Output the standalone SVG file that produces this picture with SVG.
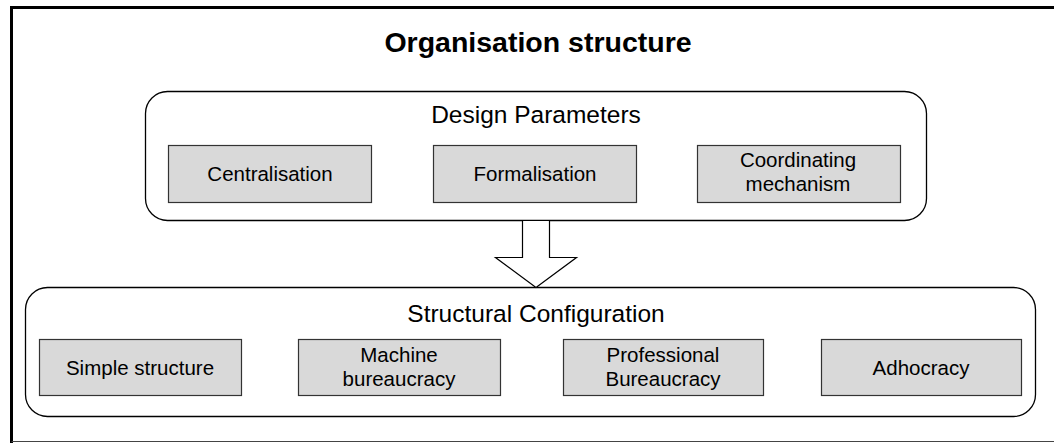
<svg xmlns="http://www.w3.org/2000/svg" width="1054" height="443" viewBox="0 0 1054 443">
<style>
.frame{fill:none;stroke:#000;stroke-width:3}
.group{fill:#fff;stroke:#000;stroke-width:1.3}
.box{fill:#d9d9d9;stroke:#333;stroke-width:1.2}
.t{font-family:"Liberation Sans",Arial,sans-serif;fill:#000;text-anchor:middle}
.bt{font-size:20.5px}
.gt{font-size:24.5px}
.title{font-size:28.5px;font-weight:bold}
.arrow{fill:#fff;stroke:#000;stroke-width:1.2;stroke-linejoin:miter}
</style>
<rect width="1054" height="443" fill="#fff"/>
<g id="frame">
<line x1="11.5" y1="443" x2="11.5" y2="7.5" class="frame"/>
<line x1="10" y1="7.5" x2="1054" y2="7.5" class="frame"/>
<line x1="11.5" y1="441.5" x2="1054" y2="441.5" stroke="#444" stroke-width="1.2"/>
</g>
<text id="title" class="t title" x="538" y="52">Organisation structure</text>
<g id="design-parameters">
<rect x="145.5" y="91.5" width="781" height="129" rx="22" ry="22" class="group"/>
<text class="t gt" x="536" y="123">Design Parameters</text>
</g>
<g id="centralisation">
<rect x="168.5" y="145.5" width="203" height="57" class="box"/>
<text class="t bt" x="270" y="181">Centralisation</text>
</g>
<g id="formalisation">
<rect x="433.5" y="145.5" width="203" height="57" class="box"/>
<text class="t bt" x="535" y="181">Formalisation</text>
</g>
<g id="coordinating-mechanism">
<rect x="697.5" y="145.5" width="203" height="57" class="box"/>
<text class="t bt" x="798" y="167">Coordinating</text>
<text class="t bt" x="798" y="191">mechanism</text>
</g>
<g id="structural-configuration">
<rect x="25.5" y="287.5" width="1010" height="129" rx="22" ry="22" class="group"/>
<text class="t gt" x="536" y="322">Structural Configuration</text>
</g>
<g id="simple-structure">
<rect x="39.5" y="339.5" width="202" height="56" class="box"/>
<text class="t bt" x="140" y="375">Simple structure</text>
</g>
<g id="machine-bureaucracy">
<rect x="298.5" y="339.5" width="202" height="56" class="box"/>
<text class="t bt" x="399" y="362">Machine</text>
<text class="t bt" x="399" y="386">bureaucracy</text>
</g>
<g id="professional-bureaucracy">
<rect x="563.5" y="339.5" width="200" height="56" class="box"/>
<text class="t bt" x="663" y="362">Professional</text>
<text class="t bt" x="663" y="386">Bureaucracy</text>
</g>
<g id="adhocracy">
<rect x="821.5" y="339.5" width="200" height="56" class="box"/>
<text class="t bt" x="921" y="375">Adhocracy</text>
</g>
<g id="connectors">
<polygon class="arrow" points="522.5,220.5 522.5,257.5 495.5,257.5 536,287.5 576.5,257.5 549.5,257.5 549.5,220.5"/>
</g>
</svg>
